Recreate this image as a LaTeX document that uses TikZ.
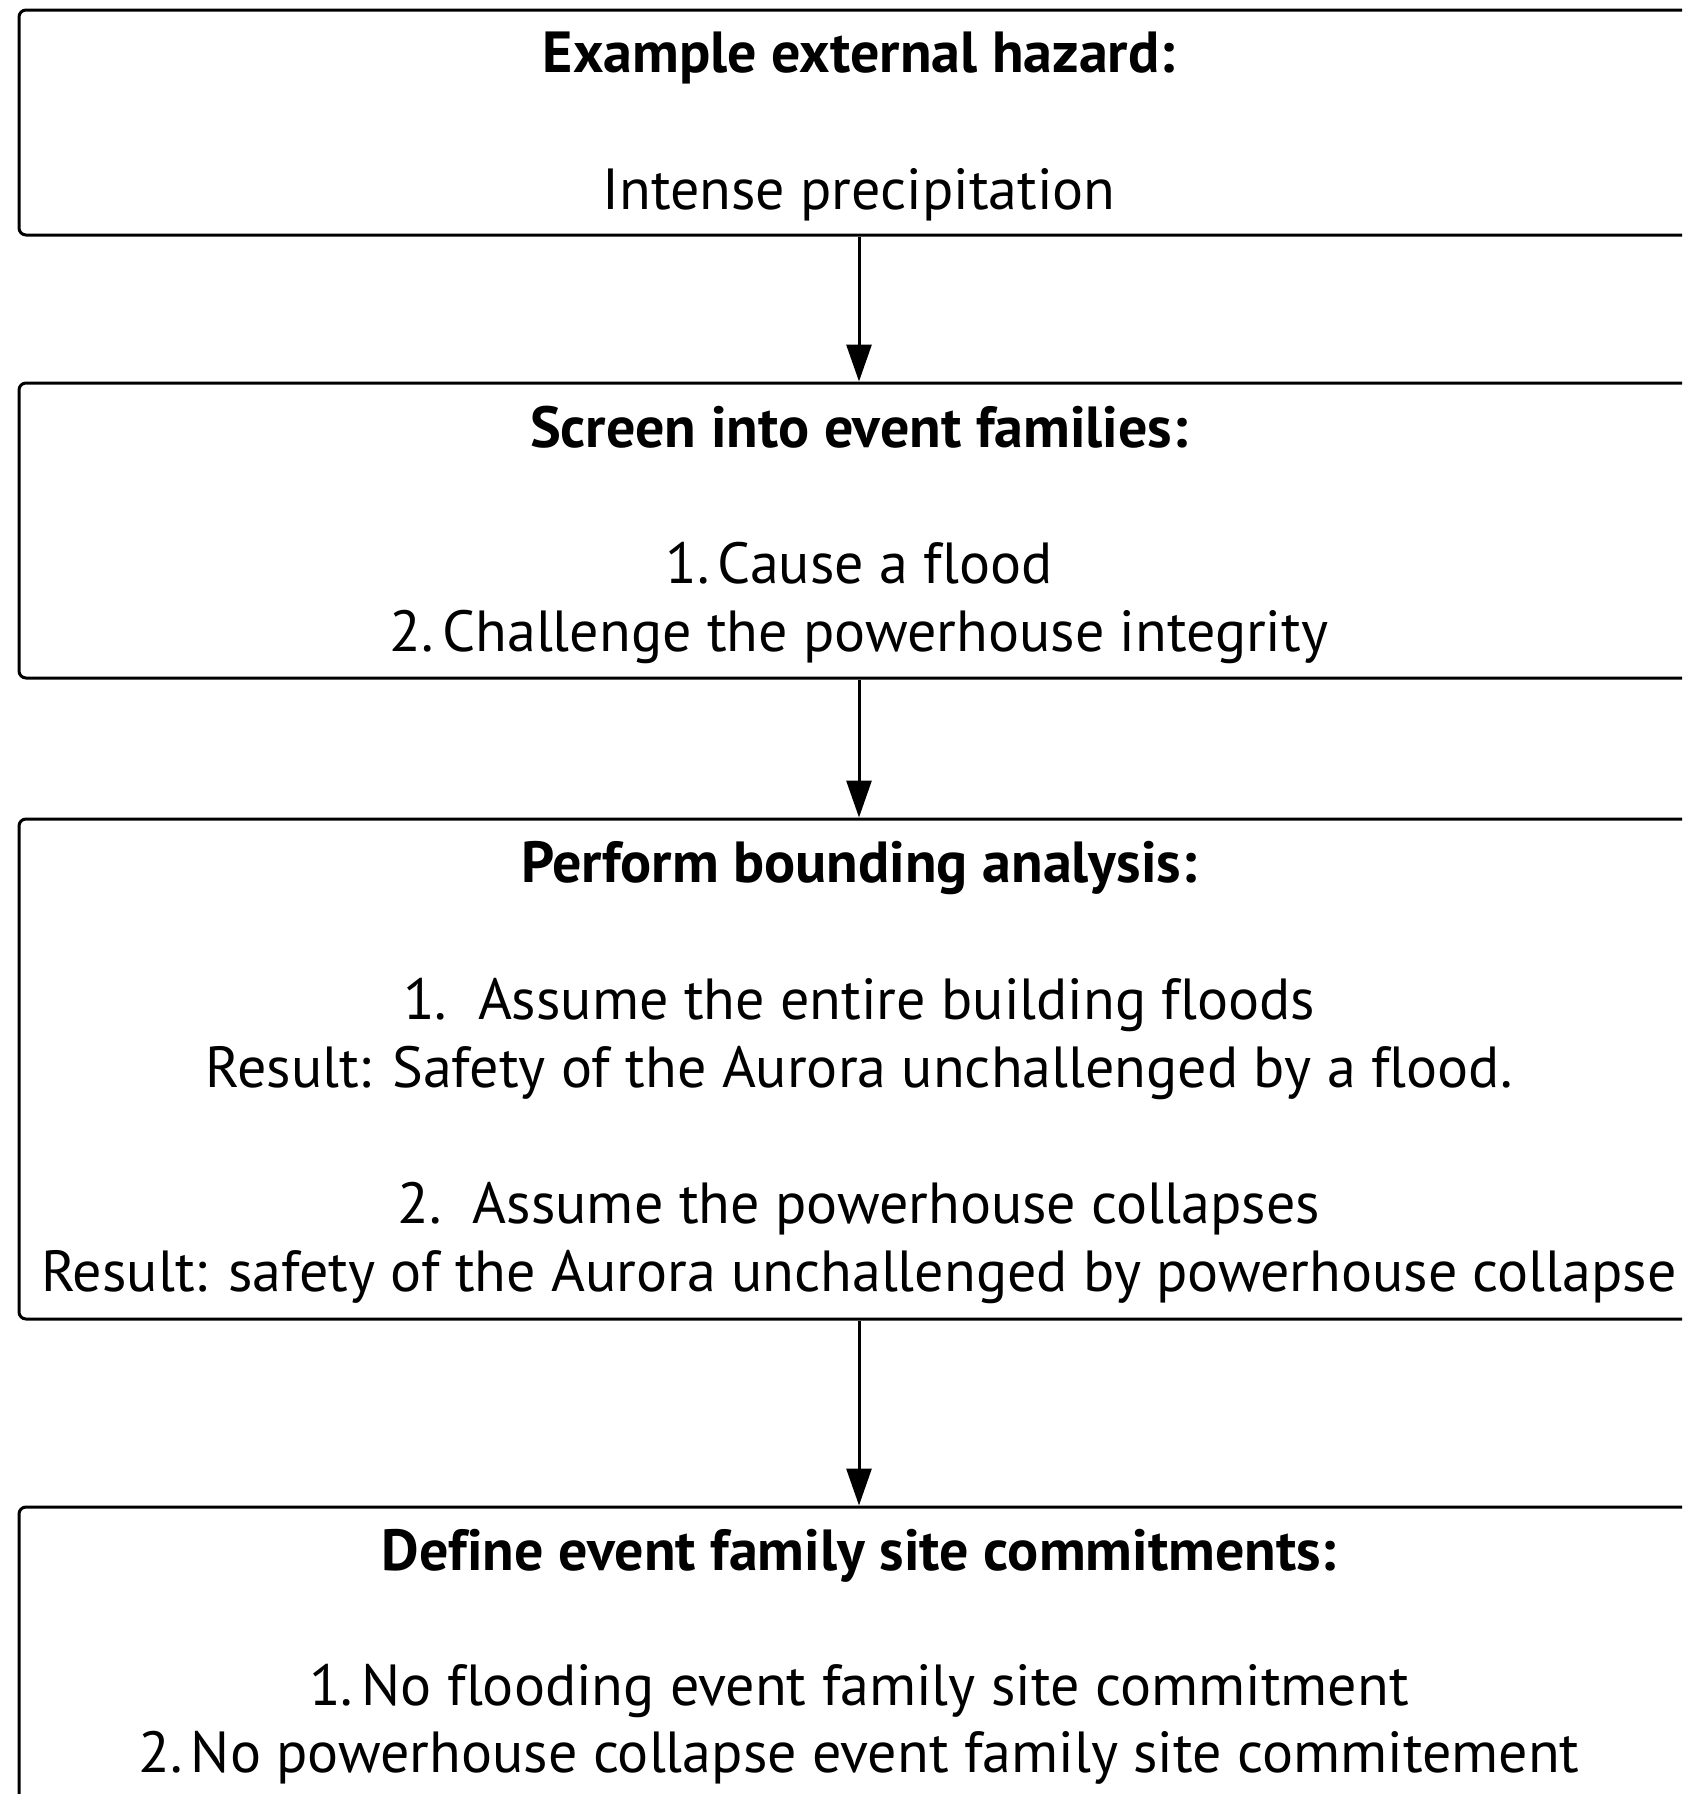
\documentclass[tikz,border=0pt]{standalone}
\usepackage{fontspec}
\setmainfont{PT Sans}[Ligatures=NoCommon]
\usetikzlibrary{arrows.meta}
% narrow gap after an item number
\newcommand{\itemgap}{\kern-0.12em\ }
\begin{document}
\begin{tikzpicture}[x=1pt,y=-1pt,
  stagebox/.style={draw=black,line width=3pt,rounded corners=7pt,minimum width=1680pt,inner sep=0pt},
  flow/.style={line width=3pt,-{Triangle[length=37pt,width=25pt]}},
  txt/.style={anchor=base,inner sep=0pt,font=\fontsize{58}{68}\selectfont},
  head/.style={anchor=base,inner sep=0pt,font=\fontsize{58}{68}\selectfont\bfseries}]
\useasboundingbox (0,0) rectangle (1682,1794);
\clip (0,0) rectangle (1682,1794);

% stage boxes
\node[stagebox,minimum height=225pt] (b1) at (859,122.5) {};
\node[stagebox,minimum height=295pt] (b2) at (859,530.5) {};
\node[stagebox,minimum height=500pt] (b3) at (859,1069) {};
\node[stagebox,minimum height=323pt] (b4) at (859,1668.5) {};

% stage 1
\node[head] (h1) at (859,72) {Example external hazard:};
\node[txt] (t11) at (859,209) {Intense precipitation};

% stage 2
\node[head] (h2) at (859,447) {Screen into event families:};
\node[txt] (t21) at (859,583) {1.\itemgap Cause a flood};
\node[txt] (t22) at (859,651) {2.\itemgap Challenge the powerhouse integrity};

% stage 3
\node[head] (h3) at (859,882) {Perform bounding analysis:};
\node[txt] (t31) at (859,1019) {1.\ \ Assume the entire building floods};
\node[txt] (t32) at (859,1087) {Result: Safety of the Aurora unchallenged by a flood.};
\node[txt] (t33) at (859,1223) {2.\ \ Assume the powerhouse collapses};
\node[txt] (t34) at (859,1291) {Result: safety of the Aurora unchallenged by powerhouse collapse};

% stage 4
\node[head] (h4) at (859,1570) {Define event family site commitments:};
\node[txt] (t41) at (859,1705) {1.\itemgap No flooding event family site commitment};
\node[txt] (t42) at (859,1772) {2.\itemgap No powerhouse collapse event family site commitement};

% connectors
\draw[flow] (b1.south) -- (b2.north);
\draw[flow] (b2.south) -- (b3.north);
\draw[flow] (b3.south) -- (b4.north);
\end{tikzpicture}
\end{document}
